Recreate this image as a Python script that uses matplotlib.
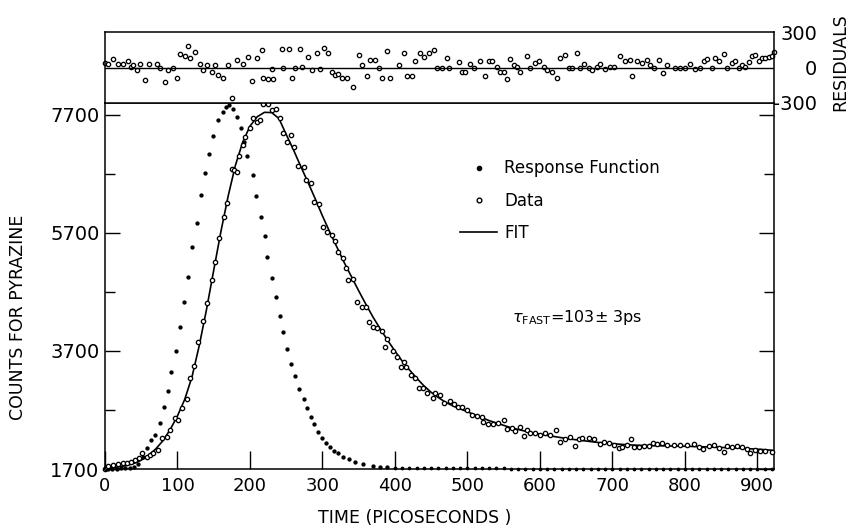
import numpy as np
import matplotlib
matplotlib.use("Agg")
import matplotlib.pyplot as plt
from matplotlib.lines import Line2D

plt.rcParams["font.family"] = ["DejaVu Sans"]

# response function (dots)
resp_t = [0, 4, 10, 16, 22, 28, 34, 40, 46, 52, 57.5, 63, 69, 76, 82, 87, 91.5, 98,
          103.5, 109.5, 115, 120.5, 126.5, 132.5, 138.5, 143, 148.5, 156, 162.5, 167,
          171, 177, 182.5, 187.5, 192, 196.5, 204, 209, 215, 220.5, 224, 230, 236,
          241.5, 246, 251.5, 257, 262, 268, 274, 278.5, 284, 288.5, 294.5, 299.5, 305,
          310.5, 316.5, 322, 329, 336, 345, 356.5, 370, 380, 389]
resp_c = [1702, 1703, 1704, 1706, 1709, 1714, 1722, 1740, 1780, 1900, 2060, 2190, 2276,
          2475, 2746, 3027, 3350, 3705, 4112, 4525, 4960, 5458, 5875, 6344, 6712, 7034,
          7350, 7615, 7746, 7831, 7870, 7797, 7661, 7475, 7240, 7005, 6690, 6330, 5970,
          5645, 5285, 4945, 4610, 4298, 4017, 3734, 3480, 3276, 3056, 2887, 2729, 2586,
          2458, 2332, 2231, 2136, 2078, 2005, 1966, 1909, 1864, 1824, 1780, 1750, 1738,
          1730]
resp_tail_t = np.arange(400, 921, 10)
resp_tail_c = [1724, 1720, 1718, 1716, 1714, 1713, 1712, 1712, 1711, 1711, 1710, 1710,
               1710, 1709, 1709, 1709, 1708, 1708, 1708, 1708, 1708, 1707, 1707, 1707,
               1707, 1707, 1707, 1707, 1706, 1706, 1706, 1706, 1706, 1706, 1706, 1706,
               1706, 1706, 1706, 1706, 1706, 1706, 1706, 1706, 1706, 1706, 1706, 1706,
               1706, 1706, 1706, 1706, 1706]

# measured counts (open circles)
data_t = [0, 1.5, 3, 4.6, 11.5, 18.4, 24.4, 30, 35.5, 41.4, 47.4, 50.6, 57.5, 62, 66.7,
          73.6, 78.2, 85.1, 89.7, 96.6, 101.2, 105.8, 112.7, 117.3, 123.3, 128.8, 135.7,
          141.2, 147.2, 151.8, 157.8, 164.3, 168.8, 174.9, 178, 182.6, 185.4, 190.1,
          193.3, 200.2, 203.9, 209.4, 214, 218.5, 225.4, 230.1, 236.1, 241.6, 245.3,
          250.8, 256.8, 261.3, 266.8, 274.7, 277.5, 284, 289, 295.8, 300.5, 306, 313,
          317.5, 322, 328.1, 332.7, 335.9, 342.8, 348.3, 354.3, 360.3, 364.9, 369.5, 375,
          381.9, 386.5, 389.7, 397.1, 402.7, 408.2, 413.2, 415.5, 422, 427.9, 433.9,
          439.4, 444.1, 452.4, 455.5, 462.5, 468, 475.3, 481.8, 487.7, 492.4, 499.3,
          506.2, 513.1, 520, 522.2, 529.1, 536, 542.9, 549.8, 554.5, 561.4, 566, 572.9,
          577.4, 582.1, 586.7, 593.6, 600.5, 607.4, 614.3, 622.1, 628.2, 635.1, 642,
          648.8, 653.4, 658, 667.2, 674.1, 682.4, 688, 694.8, 701.7, 708.6, 713.2, 720.1,
          725.7, 729.3, 736.3, 743.1, 750, 756.1, 761.6, 768.5, 775.4, 784.5, 793.7,
          802.9, 812.1, 819, 825.1, 832.8, 840.7, 846.6, 853.5, 858.2, 865.1, 872, 878.9,
          885.8, 890.4, 897.3, 904.2, 911.1, 920.3]
data_c = [1705, 1720, 1735, 1756, 1768, 1779, 1796, 1796, 1824, 1853, 1881, 1966, 1909,
          1937, 1966, 2022, 2220, 2248, 2361, 2570, 2531, 2729, 2887, 3248, 3451, 3858,
          4209, 4509, 4904, 5214, 5621, 5977, 6204, 6785, 6760, 6729, 7011, 7192, 7333,
          7475, 7655, 7587, 7616, 7882, 7882, 7785, 7802, 7644, 7390, 7248, 7361, 7163,
          6836, 6824, 6599, 6542, 6221, 6187, 5807, 5712, 5666, 5565, 5383, 5282, 5112,
          4904, 4920, 4536, 4451, 4451, 4197, 4112, 4085, 4039, 3773, 3904, 3700, 3604,
          3434, 3519, 3434, 3293, 3237, 3068, 3068, 2983, 2898, 2993, 2954, 2813, 2853,
          2796, 2756, 2756, 2700, 2615, 2598, 2587, 2502, 2458, 2463, 2475, 2531, 2373,
          2390, 2350, 2407, 2259, 2361, 2305, 2305, 2276, 2305, 2276, 2361, 2163, 2203,
          2237, 2090, 2203, 2220, 2220, 2203, 2124, 2163, 2146, 2107, 2051, 2078, 2107,
          2203, 2078, 2078, 2090, 2090, 2146, 2124, 2146, 2107, 2107, 2107, 2107, 2124,
          2078, 2034, 2090, 2107, 2051, 1993, 2090, 2078, 2090, 2068, 2034, 1976, 2022,
          2010, 2010, 1993]

# fitted curve
fit_t = np.arange(0, 921, 10)
fit_c = [1710, 1722, 1738, 1760, 1795, 1850, 1930, 2040, 2180, 2370, 2600, 2880, 3260,
         3790, 4400, 5070, 5730, 6330, 6850, 7240, 7510, 7670, 7745, 7740, 7640, 7370,
         7110, 6830, 6560, 6280, 5990, 5720, 5460, 5200, 4960, 4720, 4490, 4270, 4070,
         3880, 3700, 3530, 3380, 3240, 3110, 3000, 2910, 2830, 2770, 2720, 2670, 2620,
         2570, 2520, 2480, 2440, 2400, 2370, 2340, 2310, 2290, 2270, 2250, 2230, 2210,
         2195, 2180, 2165, 2150, 2140, 2130, 2120, 2112, 2105, 2100, 2097, 2094, 2092,
         2090, 2088, 2085, 2082, 2079, 2075, 2070, 2066, 2060, 2055, 2050, 2043, 2036,
         2028, 2018]

# residuals
res_t = [0, 4.6, 11.5, 18.4, 25.3, 32.2, 35.4, 39.1, 43.7, 48.3, 55.2, 61.2, 71.3, 75.9,
         82.8, 87.4, 94.3, 98.9, 103.5, 110.4, 115, 117.3, 124.2, 131.1, 135.7, 140.3,
         147.2, 151.8, 156.4, 163.3, 170.2, 175.3, 181.7, 190.9, 197.8, 202.4, 209.3,
         216.2, 218.5, 225.4, 230.1, 232.4, 244, 246, 253.2, 257.7, 262.3, 269.2, 271.5,
         280.7, 285.3, 292.2, 296.8, 302.3, 308.3, 312.9, 317.5, 322.1, 326.7, 333.6,
         342.8, 350.1, 354.7, 361.6, 366.2, 373.1, 377.6, 382.2, 389.1, 393.7, 405.2,
         412.1, 416.7, 423.6, 428.2, 435.1, 439.7, 446.6, 453.5, 458.1, 464.8, 471.7, 474,
         487.8, 492.4, 497, 503.9, 508.5, 517.7, 524.6, 529.2, 533.8, 540.7, 545.3,
         549.9, 554.5, 559.1, 563.7, 568.3, 572.9, 582.1, 586.7, 593.6, 598.2, 605.1,
         609.7, 616.6, 623.5, 628.1, 635, 639.6, 644.2, 651.1, 655.7, 660.3, 667.2,
         671.8, 678.7, 683.3, 690.2, 697.2, 701.8, 711, 717.9, 724.8, 727.1, 734, 741,
         747.8, 752.4, 757, 764.4, 769.8, 775.4, 786.9, 793.8, 800.7, 807.6, 814.5,
         821.4, 826, 830.6, 837.5, 842.1, 846.7, 853.6, 858.2, 865.1, 869.7, 874.3,
         878.9, 883.5, 888.1, 892.7, 897.3, 901.9, 906.5, 911.1, 915.7, 920.3, 922.6]
res_v = [37, 28, 73, 28, 28, 51, 8, 17, -20, 28, -104, 28, 28, 0, -124, -20, -6, -90, 113,
         93, 178, 79, 130, 28, -20, 23, -34, 23, -62, -90, 23, -256, 65, 28, 85, -113, 79,
         149, -90, -96, -11, -96, 158, -6, 158, -85, -6, 158, 8, 85, -20, 121, -11, 169,
         121, -34, -62, -56, -90, -85, -161, 102, 23, -76, 65, 65, -6, -85, 141, -90, 17,
         121, -76, -76, 56, 121, 85, 121, 149, 0, 0, 79, 0, 45, -34, -34, 28, -6, 51, -76,
         56, 56, 8, -34, -39, -96, 73, 23, 8, -34, 93, 0, 37, 56, 8, -20, -34, -90, 79,
         107, -6, -6, 121, -6, 28, -6, -20, 8, 28, -11, 8, 8, 93, 56, 65, -68, 56, 37, 65,
         23, 0, 65, -48, 23, 0, -6, -6, 28, -11, 0, 56, 73, -6, 79, 56, 113, -6, 37, 51, 0,
         23, 8, 45, 93, 102, 51, 79, 79, 85, 93, 130]

x_ticks = [0, 100, 200, 300, 400, 500, 600, 700, 800, 900]
y_major = [1700, 3700, 5700, 7700]
y_minor = [2700, 4700, 6700]
res_ticks = [-300, 0, 300]
res_labels = ["-300", "0", "300"]

fig = plt.figure(figsize=(8.52, 5.28), dpi=100)
L, W = 105 / 852, 669 / 852
ax = fig.add_axes([L, 1 - 469 / 528, W, 366 / 528])
axr = fig.add_axes([L, 1 - 103 / 528, W, 71 / 528], sharex=ax)

ax.plot(fit_t, fit_c, color="black", lw=1.2, zorder=2)
ax.plot(resp_t, resp_c, "o", ms=2.1, color="black", zorder=3, clip_on=False)
ax.plot(resp_tail_t, resp_tail_c, "o", ms=1.7, color="black", zorder=3, clip_on=False)
ax.plot(data_t, data_c, "o", ms=3.1, mfc="white", mec="black", mew=0.95, zorder=4,
        clip_on=False)

ax.set_xlim(0, 923)
ax.set_ylim(1700, 7903)
ax.set_xticks(x_ticks)
ax.set_yticks(y_major)
ax.set_yticks(y_minor, minor=True)
ax.tick_params(axis="x", direction="in", length=13, width=1, pad=6, labelsize=13)
ax.tick_params(axis="y", which="major", direction="in", length=11, width=1, pad=4,
               labelsize=14, right=True)
ax.tick_params(axis="y", which="minor", direction="in", length=7, width=1, right=True)
for s in ax.spines.values():
    s.set_linewidth(1.1)

axr.plot(res_t, res_v, "o", ms=3.1, mfc="white", mec="black", mew=0.95, clip_on=False)
axr.axhline(0, color="black", lw=1.0)
axr.set_ylim(-300, 300)
axr.yaxis.tick_right()
axr.set_yticks(res_ticks, labels=res_labels)
axr.tick_params(axis="y", direction="in", length=0, pad=31, labelsize=14)
for lbl in axr.get_yticklabels():
    lbl.set_horizontalalignment("right")
axr.tick_params(axis="x", bottom=False, labelbottom=False)
for s in axr.spines.values():
    s.set_linewidth(1.1)

handles = [
    Line2D([], [], ls="none", marker="o", ms=3, color="black"),
    Line2D([], [], ls="none", marker="o", ms=3.4, mfc="white", mec="black", mew=1.0),
    Line2D([], [], color="black", lw=1.2),
]
ax.legend(handles, ["Response Function", "Data", "FIT"], loc="upper left",
          bbox_to_anchor=(0.531, 0.846), frameon=False, fontsize=12,
          handlelength=2.2, handletextpad=0.45, labelspacing=0.85, borderpad=0,
          borderaxespad=0)

ax.text(561, 4260, r"$\tau_{\rm FAST}$=103$\pm$ 3ps", fontsize=11.5, va="center")

fig.text(18 / 852, 1 - 317 / 528, "COUNTS FOR PYRAZINE", rotation=90, fontsize=12.5,
         ha="center", va="center")
fig.text(415 / 852, 1 - 518 / 528, "TIME (PICOSECONDS )", fontsize=12.5,
         ha="center", va="center")
fig.text(840 / 852, 1 - 62 / 528, "RESIDUALS", rotation=90, fontsize=12.5,
         ha="center", va="center")

fig.savefig("out.png", dpi=100)
